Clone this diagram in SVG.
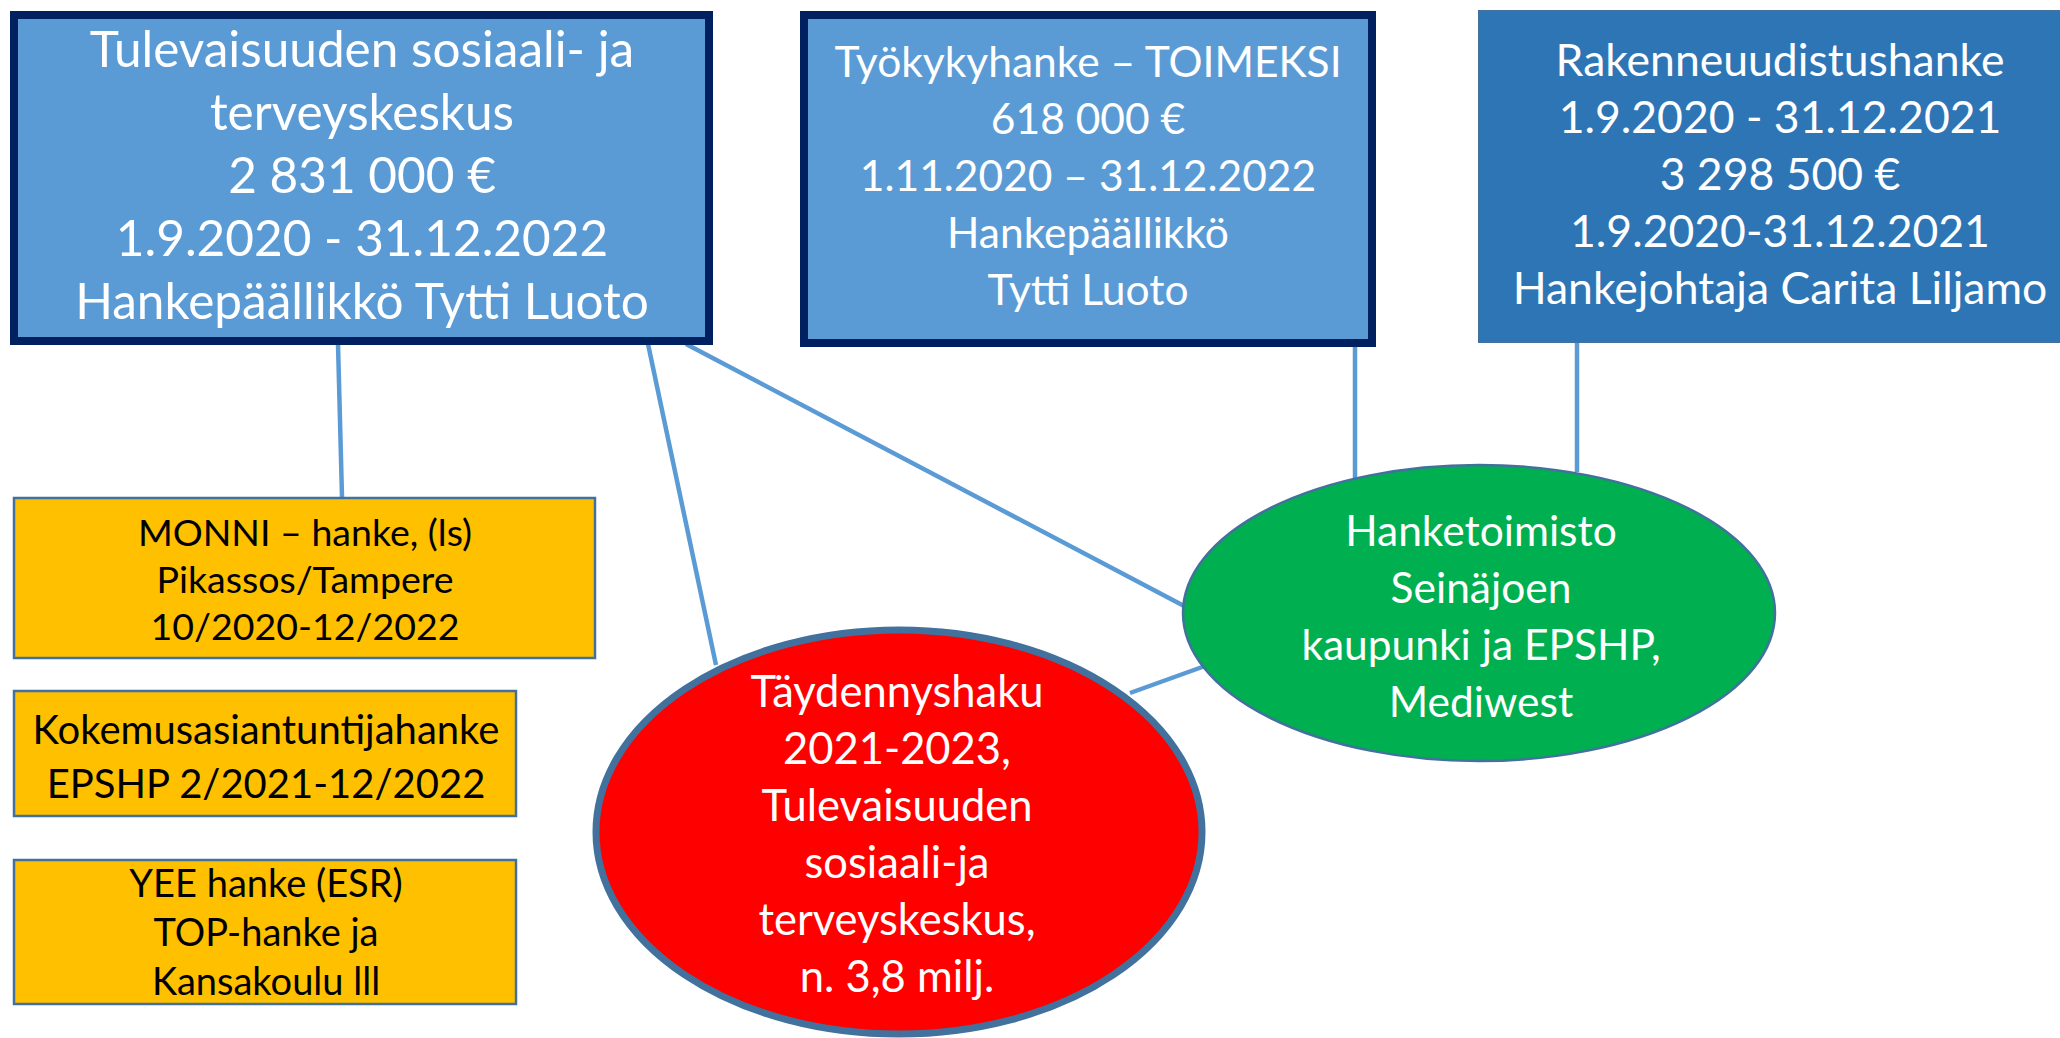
<svg xmlns="http://www.w3.org/2000/svg" width="2060" height="1038" viewBox="0 0 2060 1038">
<style>
.t{font-family:Lato,"Open Sans","Liberation Sans",sans-serif;text-anchor:middle}
.w{fill:#ffffff}
.k{fill:#000000}
.navy{fill:#5B9BD5;stroke:#002060;stroke-width:8}
.dark{fill:#2E75B6;stroke:#41719C;stroke-width:2}
.org{fill:#FFC000;stroke:#41719C;stroke-width:2.5}
.conn line{stroke:#5B9BD5;stroke-width:4.5;fill:none}
</style>
<rect width="2060" height="1038" fill="#ffffff"/>
<g id="connectors" class="conn">
<line x1="338" y1="344" x2="342" y2="497"/>
<line x1="648" y1="344" x2="716" y2="665"/>
<line x1="686" y1="344" x2="1186" y2="607"/>
<line x1="1130" y1="693" x2="1205" y2="666"/>
<line x1="1355" y1="346" x2="1355" y2="478"/>
<line x1="1577" y1="342" x2="1577" y2="472"/>
</g>
<g id="box-tulevaisuuden">
<rect class="navy" x="14" y="15" width="695" height="326"/>
<text class="t w" font-size="49.5"><tspan x="362" y="67">Tulevaisuuden sosiaali- ja</tspan><tspan x="362" y="130">terveyskeskus</tspan><tspan x="362" y="193">2 831 000 €</tspan><tspan x="362" y="256">1.9.2020 - 31.12.2022</tspan><tspan x="362" y="319">Hankepäällikkö Tytti Luoto</tspan></text>
</g>
<g id="box-tyokyky">
<rect class="navy" x="804" y="15" width="568" height="328"/>
<text class="t w" font-size="42.5"><tspan x="1088" y="77">Työkykyhanke – TOIMEKSI</tspan><tspan x="1088" y="134">618 000 €</tspan><tspan x="1088" y="191">1.11.2020 – 31.12.2022</tspan><tspan x="1088" y="248">Hankepäällikkö</tspan><tspan x="1088" y="305">Tytti Luoto</tspan></text>
</g>
<g id="box-rakenne">
<rect class="dark" x="1479" y="11" width="600" height="331"/>
<text class="t w" font-size="44.5"><tspan x="1780" y="76">Rakenneuudistushanke</tspan><tspan x="1780" y="133">1.9.2020 - 31.12.2021</tspan><tspan x="1780" y="190">3 298 500 €</tspan><tspan x="1780" y="247">1.9.2020-31.12.2021</tspan><tspan x="1780" y="304">Hankejohtaja Carita Liljamo</tspan></text>
</g>
<g id="box-monni">
<rect class="org" x="14" y="498" width="581" height="160"/>
<text class="t k" font-size="37.5"><tspan x="305" y="546">MONNI – hanke, (ls)</tspan><tspan x="305" y="593">Pikassos/Tampere</tspan><tspan x="305" y="640">10/2020-12/2022</tspan></text>
</g>
<g id="box-kokemus">
<rect class="org" x="14" y="691" width="502" height="125"/>
<text class="t k" font-size="40"><tspan x="266" y="744">Kokemusasiantuntijahanke</tspan><tspan x="266" y="798">EPSHP 2/2021-12/2022</tspan></text>
</g>
<g id="box-yee">
<rect class="org" x="14" y="860" width="502" height="144"/>
<text class="t k" font-size="38"><tspan x="266" y="897">YEE hanke (ESR)</tspan><tspan x="266" y="946">TOP-hanke ja</tspan><tspan x="266" y="995">Kansakoulu lll</tspan></text>
</g>
<g id="ellipse-taydennyshaku">
<ellipse cx="899" cy="832" rx="303" ry="202" fill="#FF0000" stroke="#41719C" stroke-width="7"/>
<text class="t w" font-size="43.5"><tspan x="897" y="707">Täydennyshaku</tspan><tspan x="897" y="764">2021-2023,</tspan><tspan x="897" y="821">Tulevaisuuden</tspan><tspan x="897" y="878">sosiaali-ja</tspan><tspan x="897" y="935">terveyskeskus,</tspan><tspan x="897" y="992">n. 3,8 milj.</tspan></text>
</g>
<g id="ellipse-hanketoimisto">
<ellipse cx="1479" cy="613" rx="296" ry="148" fill="#00B050" stroke="#41719C" stroke-width="2.5"/>
<text class="t w" font-size="42.5"><tspan x="1481" y="546">Hanketoimisto</tspan><tspan x="1481" y="603">Seinäjoen</tspan><tspan x="1481" y="660">kaupunki ja EPSHP,</tspan><tspan x="1481" y="717">Mediwest</tspan></text>
</g>
</svg>
